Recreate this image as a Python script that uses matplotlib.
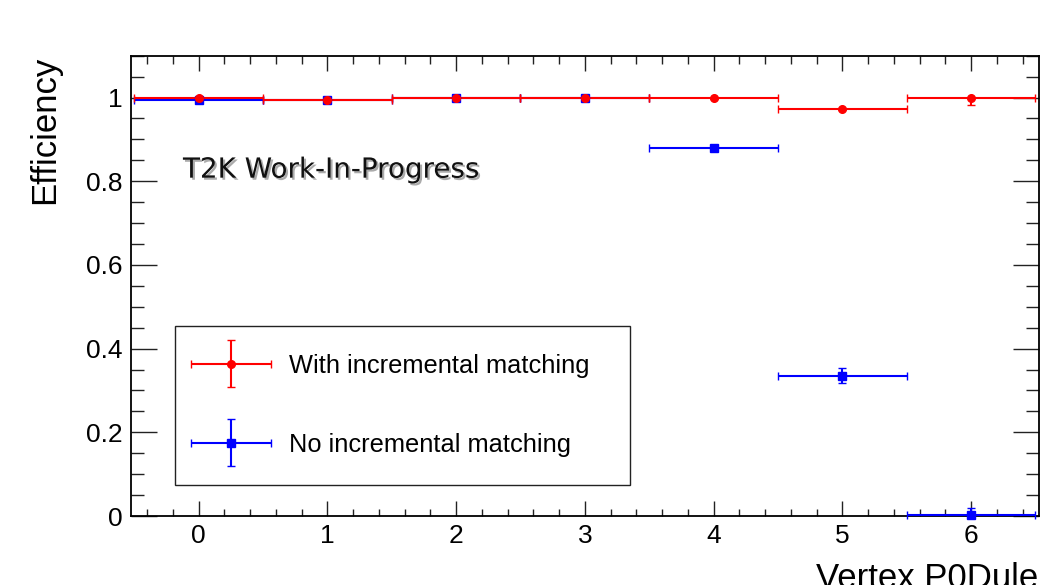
import matplotlib
matplotlib.use('Agg')
import matplotlib.pyplot as plt
import matplotlib.patheffects as pe
from matplotlib.legend_handler import HandlerErrorbar
from matplotlib.ticker import MultipleLocator, FuncFormatter
import numpy as np

# data
bins = [0, 1, 2, 3, 4, 5, 6]
bin_halfwidth = [0.5] * 7

eff_with = [0.998, 0.994, 0.999, 0.999, 0.999, 0.973, 0.999]
err_with_lo = [0.002, 0.002, 0.002, 0.002, 0.002, 0.003, 0.018]
err_with_hi = [0.001, 0.002, 0.001, 0.001, 0.001, 0.003, 0.001]

eff_no = [0.994, 0.994, 0.999, 0.999, 0.879, 0.335, 0.002]
err_no_lo = [0.002, 0.002, 0.001, 0.001, 0.004, 0.018, 0.002]
err_no_hi = [0.002, 0.002, 0.001, 0.001, 0.004, 0.018, 0.018]

plt.rcParams['font.family'] = ['Liberation Sans', 'DejaVu Sans']

fig = plt.figure(figsize=(10.52, 5.85), dpi=100)
ax = fig.add_axes([0.1245, 0.1179, 0.9874 - 0.1245, 0.9048 - 0.1179])

eb_no = ax.errorbar(bins, eff_no, xerr=bin_halfwidth, yerr=[err_no_lo, err_no_hi],
                    fmt='s', color='#0000ff', ms=5.5, elinewidth=1.5,
                    capsize=3, capthick=1, zorder=3, label='No incremental matching')
eb_with = ax.errorbar(bins, eff_with, xerr=bin_halfwidth, yerr=[err_with_lo, err_with_hi],
                      fmt='o', color='#ff0000', ms=5.5, elinewidth=1.5,
                      capsize=3, capthick=1, zorder=3, label='With incremental matching')
# the last blue point sits on the frame, keep it from being clipped
for a in eb_no.get_children():
    a.set_clip_on(False)

ax.set_xlim(-0.526, 6.526)
ax.set_ylim(0, 1.1)

ax.xaxis.set_major_locator(MultipleLocator(1))
ax.xaxis.set_minor_locator(MultipleLocator(0.2))
ax.yaxis.set_major_locator(MultipleLocator(0.2))
ax.yaxis.set_minor_locator(MultipleLocator(0.05))
ax.yaxis.set_major_formatter(FuncFormatter(lambda v, p: '%g' % round(v, 3)))

ax.tick_params(which='both', direction='in', top=True, right=True, width=1,
               color='#222222', labelsize=19)
ax.tick_params(axis='x', which='major', length=10.8, pad=6)
ax.tick_params(axis='x', which='minor', length=5.4)
ax.tick_params(axis='y', which='major', length=18.7, pad=6)
ax.tick_params(axis='y', which='minor', length=9.2)
for s in ax.spines.values():
    s.set_linewidth(1.3)

# x title sits low, partly below the canvas edge as in the original
ax.set_xlabel('Vertex P0Dule', loc='right', fontsize=25)
ax.xaxis.set_label_coords(1.0, -0.1)
ax.set_ylabel('Efficiency', loc='top', fontsize=25)
ax.yaxis.set_label_coords(-0.077, 1.0)

ax.text(0.0573, 0.735, 'T2K Work-In-Progress', transform=ax.transAxes,
        fontsize=20, family='DejaVu Sans', color='#111111', va='baseline',
        path_effects=[pe.SimplePatchShadow(offset=(1.5, -1.5), shadow_rgbFace='#888888', alpha=0.7),
                      pe.Normal()])

leg = ax.legend(handles=[eb_with, eb_no], loc='upper left',
                bbox_to_anchor=(0.0481, 0.0710, 0.5016, 0.3424), mode='expand',
                fontsize=18.3, frameon=True, fancybox=False, framealpha=1,
                edgecolor='#222222', borderpad=1.10, labelspacing=2.17,
                handlelength=2.20, handletextpad=1.21, borderaxespad=0,
                handler_map={type(eb_with): HandlerErrorbar(xerr_size=1.575, yerr_size=0.925)})
leg.get_frame().set_linewidth(1.0)

fig.savefig('out.png', dpi=100)
